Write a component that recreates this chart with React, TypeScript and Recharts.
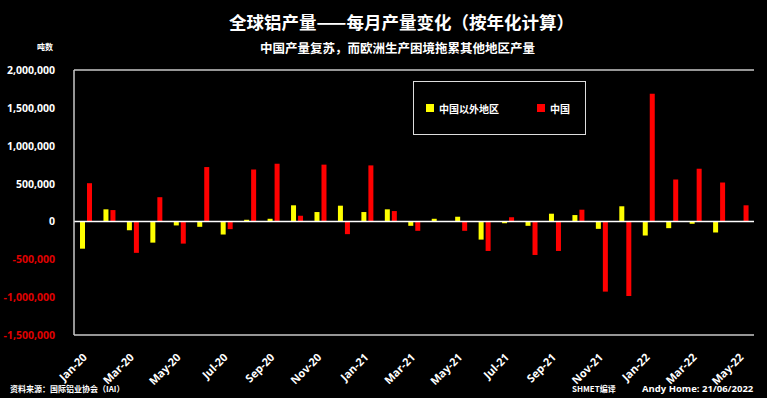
import { BarChart, Bar, XAxis, YAxis, CartesianGrid, ReferenceLine } from "recharts";

const months = [
  "Jan-20", "Feb-20", "Mar-20", "Apr-20", "May-20", "Jun-20", "Jul-20", "Aug-20", "Sep-20", "Oct-20", "Nov-20", "Dec-20",
  "Jan-21", "Feb-21", "Mar-21", "Apr-21", "May-21", "Jun-21", "Jul-21", "Aug-21", "Sep-21", "Oct-21", "Nov-21", "Dec-21",
  "Jan-22", "Feb-22", "Mar-22", "Apr-22", "May-22",
];

// 中国以外地区
const rowValues = [
  -360000, 160000, -115000, -280000, -53000, -71000, -173000, 22000, 35000, 213000, 124000, 208000,
  124000, 160000, -58000, 35000, 62000, -240000, -24000, -58000, 102000, 84000, -98000, 200000,
  -186000, -89000, -31000, -146000, -6000,
];

// 中国
const chinaValues = [
  505000, 150000, -415000, 320000, -293000, 718000, -102000, 687000, 762000, 75000, 750000, -168000,
  740000, 137000, -124000, -4000, -124000, -390000, 56000, -443000, -390000, 155000, -927000, -985000,
  1685000, 554000, 696000, 514000, 213000,
];

const yTicks = [-1500000, -1000000, -500000, 0, 500000, 1000000, 1500000, 2000000];

const data = months.map((m, i) => ({ month: m, row: rowValues[i], china: chinaValues[i] }));

const latinFont = "'Open Sans', sans-serif";
const cjkFont = "'Noto Sans CJK SC', sans-serif";

function YTick({ x, y, payload }: any) {
  const v = payload.value as number;
  return (
    <text x={x - 11} y={y + 4} textAnchor="end" fontFamily={latinFont} fontSize={10.5} fontWeight="bold" fill={v < 0 ? "#e00000" : "#ffffff"}>
      {v.toLocaleString("en-US")}
    </text>
  );
}

function XTick({ x, y, payload }: any) {
  return (
    <text transform={`translate(${x + 2},${y + 15}) rotate(-45)`} textAnchor="end" fontFamily={latinFont} fontSize={11} fontWeight="bold" fill="#ffffff">
      {payload.value}
    </text>
  );
}

function LegendBox() {
  const item = (color: string, label: string, gap: number) => (
    <div style={{ display: "flex", alignItems: "center", marginRight: gap, whiteSpace: "nowrap" }}>
      <span style={{ width: 8, height: 8, background: color, display: "inline-block", marginRight: 5 }} />
      <span style={{ color: "#fff", fontSize: 10, fontWeight: 700, fontFamily: cjkFont }}>{label}</span>
    </div>
  );
  return (
    <div style={{ position: "absolute", left: 413, top: 81, width: 173, height: 54, border: "1.5px solid #ddd", background: "#000", display: "flex", alignItems: "center", paddingLeft: 12, boxSizing: "border-box" }}>
      {item("#ffff00", "中国以外地区", 38)}
      {item("#ff0000", "中国", 0)}
    </div>
  );
}

export default function App() {
  return (
    <div style={{ position: "absolute", left: 0, top: 0, width: 767, height: 398, background: "#000", fontFamily: cjkFont }}>
      <div style={{ position: "absolute", left: 0, width: 767, top: 9, textAlign: "center", color: "#fff", fontSize: 17.5, fontWeight: 700, paddingLeft: 36, boxSizing: "border-box" }}>
        全球铝产量——每月产量变化（按年化计算）
      </div>
      <div style={{ position: "absolute", left: 0, width: 767, top: 38, textAlign: "center", color: "#fff", fontSize: 12.5, fontWeight: 700, paddingLeft: 28, boxSizing: "border-box" }}>
        中国产量复苏，而欧洲生产困境拖累其他地区产量
      </div>
      <div style={{ position: "absolute", left: 37, top: 41, color: "#fff", fontSize: 8, fontWeight: 700 }}>吨数</div>
      <BarChart width={767} height={398} data={data} margin={{ top: 70, right: 13, left: 0, bottom: 0 }} barSize={5} barGap={2}>
        <CartesianGrid vertical={false} stroke="#c8c8c8" strokeWidth={1.5} />
        <XAxis dataKey="month" interval={1} height={63} axisLine={false} tickLine={false} tick={<XTick />} />
        <YAxis yAxisId="left" width={74} domain={[-1500000, 2000000]} ticks={yTicks} axisLine={{ stroke: "#c8c8c8", strokeWidth: 1.5 }} tickLine={false} tick={<YTick />} />
        <YAxis yAxisId="right" orientation="right" width={0} domain={[-1500000, 2000000]} ticks={yTicks} axisLine={{ stroke: "#c8c8c8", strokeWidth: 1.5 }} tickLine={false} tick={false} />
        <ReferenceLine yAxisId="left" y={0} stroke="#ffffff" strokeWidth={1.5} />
        <Bar yAxisId="left" dataKey="row" name="中国以外地区" fill="#ffff00" isAnimationActive={false} />
        <Bar yAxisId="left" dataKey="china" name="中国" fill="#ff0000" isAnimationActive={false} />
      </BarChart>
      <LegendBox />
      <div style={{ position: "absolute", left: 10, top: 383, color: "#fff", fontSize: 8, fontWeight: 700 }}>资料来源：国际铝业协会（IAI）</div>
      <div style={{ position: "absolute", left: 572, top: 383, color: "#fff", fontSize: 8, fontWeight: 700 }}>SHMET编译</div>
      <div style={{ position: "absolute", left: 642, top: 382, color: "#fff", fontSize: 9.5, fontWeight: 700, fontFamily: latinFont }}>Andy Home: 21/06/2022</div>
    </div>
  );
}
